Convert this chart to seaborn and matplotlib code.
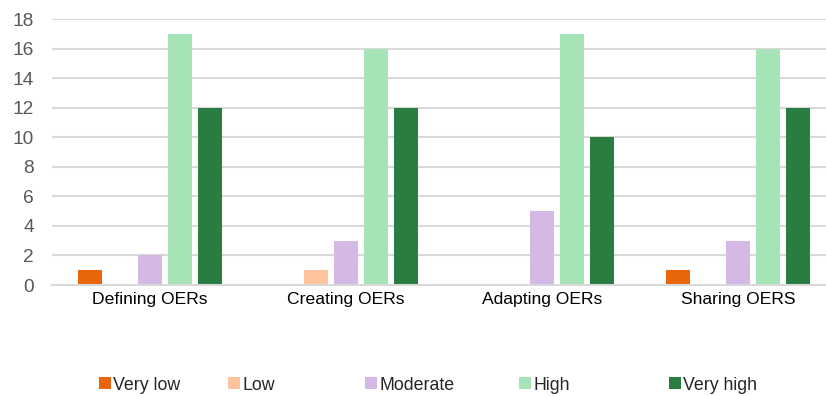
import matplotlib
matplotlib.use("Agg")
import matplotlib.pyplot as plt
import seaborn as sns
import pandas as pd
from matplotlib.patches import Patch

categories = ["Defining OERs", "Creating OERs", "Adapting OERs", "Sharing OERS"]
levels = ["Very low", "Low", "Moderate", "High", "Very high"]
very_low = [1, 0, 0, 1]
low = [0, 1, 0, 0]
moderate = [2, 3, 5, 3]
high = [17, 16, 17, 16]
very_high = [12, 12, 10, 12]
yticks = [0, 2, 4, 6, 8, 10, 12, 14, 16, 18]

colors = ["#E8650A", "#FFC49E", "#D4B8E6", "#A6E3B6", "#2A7D41"]

series = [very_low, low, moderate, high, very_high]
rows = []
for lvl, vals in zip(levels, series):
    for cat, v in zip(categories, vals):
        rows.append({"Activity": cat, "Level": lvl, "Count": v})
df = pd.DataFrame(rows)

sns.set_theme(style="white")
plt.rcParams["font.family"] = ["Liberation Sans", "DejaVu Sans"]

W, H = 826, 396
fig = plt.figure(figsize=(W / 100, H / 100), dpi=100)
ax = fig.add_axes([52 / W, 1 - 285 / H, (W - 52) / W, (285 - 19) / H])

sns.barplot(data=df, x="Activity", y="Count", hue="Level",
            hue_order=levels, order=categories, palette=colors,
            width=0.77, gap=0.2, linewidth=0, saturation=1,
            errorbar=None, legend=False, ax=ax)

ax.set_ylim(0, 18)
ax.set_yticks(yticks)
ax.set_xlim(-0.5, 3.449)
ax.yaxis.grid(True, color="#D9D9D9", linewidth=1.5)
ax.set_axisbelow(True)
for side in ["left", "right", "top"]:
    ax.spines[side].set_visible(False)
ax.spines["bottom"].set_color("#D9D9D9")
ax.spines["bottom"].set_linewidth(1.5)
ax.set_xlabel("")
ax.set_ylabel("")
ax.tick_params(axis="y", length=0, pad=13, labelsize=13.8, labelcolor="#595959")
ax.tick_params(axis="x", length=0, pad=5, labelsize=12.6, labelcolor="#000000")

# legend entries spread along the bottom
legend_x = [99, 228, 365, 519, 669]
for lvl, col, x in zip(levels, colors, legend_x):
    fig.legend(handles=[Patch(facecolor=col, edgecolor="none")], labels=[lvl],
               loc="center left", bbox_to_anchor=(x / W, 1 - 385 / H), frameon=False,
               fontsize=12.8, handlelength=0.68, handleheight=0.68,
               handletextpad=0.12, borderaxespad=0, borderpad=0)

fig.savefig("out.png", dpi=100)
